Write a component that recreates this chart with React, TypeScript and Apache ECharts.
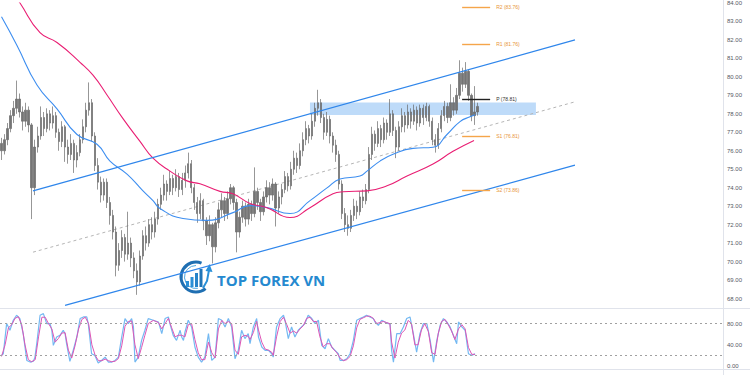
import React, { useEffect, useRef } from 'react';
import * as echarts from 'echarts';

const categoryCount = 240;

// [open, close, low, high]
const bars = [
  [76.4, 76.0, 75.5, 76.7], [76.0, 76.6, 75.8, 76.9], [76.6, 77.2, 76.3, 77.5], [77.2, 77.9, 77.0, 78.2],
  [77.9, 78.3, 77.5, 78.7], [78.3, 78.8, 78.0, 79.8], [78.8, 78.1, 77.8, 79.1], [78.1, 77.6, 77.1, 78.4],
  [77.6, 78.2, 77.3, 78.6], [78.2, 77.4, 77.0, 78.4], [77.4, 74.0, 72.3, 77.5], [74.0, 76.2, 73.6, 76.6],
  [76.2, 76.8, 75.9, 77.3], [76.8, 77.8, 76.6, 78.4], [77.8, 77.2, 76.8, 78.1], [77.2, 78.0, 77.0, 78.3],
  [78.0, 77.5, 77.1, 78.2], [77.5, 77.9, 77.2, 78.4], [77.9, 77.0, 76.7, 78.1], [77.0, 76.5, 76.0, 77.2],
  [76.5, 77.3, 76.2, 77.6], [77.3, 76.2, 75.4, 77.4], [76.2, 75.8, 75.3, 76.6], [75.8, 76.4, 75.5, 76.9],
  [76.4, 75.5, 74.8, 76.6], [75.5, 75.9, 75.1, 76.3], [75.9, 76.6, 75.7, 76.9], [76.6, 77.3, 76.4, 77.7],
  [77.3, 78.2, 77.0, 78.6], [78.2, 78.6, 77.9, 79.7], [78.6, 76.8, 76.5, 78.8], [76.8, 75.2, 74.9, 77.0],
  [75.2, 74.3, 73.9, 75.6], [74.3, 73.6, 73.2, 74.6], [73.6, 74.3, 73.3, 74.5], [74.3, 73.2, 72.9, 74.5],
  [73.2, 72.5, 72.0, 73.5], [72.5, 71.6, 71.2, 72.8], [71.6, 69.8, 69.2, 71.9], [69.8, 70.6, 69.5, 71.0],
  [70.6, 71.3, 70.2, 71.7], [71.3, 70.4, 70.0, 71.5], [70.4, 71.0, 70.1, 72.7], [71.0, 70.2, 69.7, 71.3],
  [70.2, 69.5, 69.1, 70.5], [69.5, 68.9, 68.2, 69.9], [68.9, 70.3, 68.7, 70.6], [70.3, 71.4, 70.1, 71.7],
  [71.4, 71.0, 70.6, 71.9], [71.0, 72.0, 70.8, 72.3], [72.0, 71.6, 71.2, 72.4], [71.6, 72.3, 71.3, 72.7],
  [72.3, 73.1, 72.0, 73.4], [73.1, 73.6, 72.8, 74.0], [73.6, 74.2, 73.3, 74.7], [74.2, 73.8, 73.3, 74.4],
  [73.8, 74.5, 73.6, 74.9], [74.5, 74.0, 73.6, 74.7], [74.0, 74.6, 73.8, 75.0], [74.6, 73.9, 73.5, 74.8],
  [73.9, 74.4, 73.6, 74.8], [74.4, 74.8, 74.0, 75.2], [74.8, 75.3, 74.5, 75.9], [75.3, 74.0, 73.7, 75.5],
  [74.0, 73.2, 72.8, 74.2], [73.2, 72.6, 72.1, 73.5], [72.6, 73.3, 72.3, 73.7], [73.3, 72.2, 71.7, 73.4],
  [72.2, 71.4, 70.9, 72.4], [71.4, 72.0, 71.1, 72.5], [72.0, 70.8, 69.9, 72.1], [70.8, 72.1, 70.5, 72.4],
  [72.1, 72.8, 71.8, 73.2], [72.8, 73.3, 72.4, 73.7], [73.3, 72.6, 72.2, 73.5], [72.6, 73.4, 72.3, 73.8],
  [73.4, 74.0, 73.1, 74.2], [74.0, 73.2, 72.8, 74.1], [73.2, 71.6, 70.5, 73.4], [71.6, 72.4, 71.3, 72.7],
  [72.4, 73.0, 72.1, 73.3], [73.0, 72.3, 71.9, 73.2], [72.3, 73.1, 72.0, 73.4], [73.1, 72.6, 72.2, 73.3],
  [72.6, 73.8, 72.4, 75.1], [73.8, 73.2, 72.8, 74.0], [73.2, 72.7, 72.2, 73.4], [72.7, 73.5, 72.5, 73.8],
  [73.5, 74.0, 73.2, 74.4], [74.0, 73.6, 73.1, 74.3], [73.6, 74.2, 73.3, 74.5], [74.2, 72.9, 71.9, 74.3],
  [72.9, 73.5, 72.6, 73.8], [73.5, 73.9, 73.1, 74.2], [73.9, 74.6, 73.7, 74.9], [74.6, 74.1, 73.8, 74.8],
  [74.1, 75.0, 73.9, 75.4], [75.0, 75.6, 74.7, 76.0], [75.6, 75.2, 74.8, 75.9], [75.2, 76.0, 75.0, 76.4],
  [76.0, 76.6, 75.7, 77.0], [76.6, 77.2, 76.3, 77.6], [77.2, 76.8, 76.4, 77.4], [76.8, 77.6, 76.6, 78.0],
  [77.6, 78.3, 77.3, 78.6], [78.3, 78.6, 77.9, 79.3], [78.6, 77.8, 77.5, 78.8], [77.8, 77.0, 76.6, 78.0],
  [77.0, 77.7, 76.8, 78.1], [77.7, 76.8, 76.4, 77.9], [76.8, 76.3, 75.9, 77.0], [76.3, 75.8, 75.4, 76.6],
  [75.8, 74.2, 73.9, 76.0], [74.2, 72.6, 72.3, 74.4], [72.6, 72.0, 71.6, 72.9], [72.0, 71.8, 71.4, 72.5],
  [71.8, 72.5, 71.6, 72.8], [72.5, 73.0, 72.2, 73.4], [73.0, 72.7, 72.3, 73.3], [72.7, 73.5, 72.5, 73.8],
  [73.5, 73.3, 72.9, 73.9], [73.3, 73.9, 73.1, 74.2], [73.9, 75.8, 73.7, 76.2], [75.8, 76.9, 75.5, 77.3],
  [76.9, 76.4, 76.0, 77.1], [76.4, 77.2, 76.2, 77.6], [77.2, 76.6, 76.2, 77.4], [76.6, 77.5, 76.4, 77.8],
  [77.5, 77.0, 76.6, 77.7], [77.0, 78.0, 76.8, 78.8], [78.0, 77.1, 76.8, 78.2], [77.1, 76.2, 75.6, 77.3],
  [76.2, 77.3, 76.0, 77.6], [77.3, 77.9, 77.0, 78.3], [77.9, 77.4, 77.0, 78.1], [77.4, 78.1, 77.2, 78.5],
  [78.1, 77.6, 77.2, 78.3], [77.6, 78.2, 77.4, 78.5], [78.2, 77.5, 77.1, 78.4], [77.5, 78.3, 77.3, 78.5],
  [78.3, 77.8, 77.4, 78.5], [77.8, 78.4, 77.6, 78.6], [78.4, 77.6, 77.3, 78.5], [77.6, 76.6, 76.3, 77.8],
  [76.6, 76.3, 75.9, 76.9], [76.3, 77.2, 76.1, 77.5], [77.2, 77.9, 77.0, 78.2], [77.9, 78.4, 77.6, 78.7],
  [78.4, 77.8, 77.5, 78.6], [77.8, 78.6, 77.6, 79.6], [78.6, 78.2, 77.9, 78.9], [78.2, 79.0, 78.0, 79.4],
  [79.0, 80.2, 78.8, 80.9], [80.2, 79.6, 79.2, 80.5], [79.6, 80.3, 79.4, 80.8], [80.3, 79.0, 78.7, 80.4],
  [79.0, 77.9, 77.6, 79.1], [77.9, 78.1, 77.4, 79.5], [78.1, 78.4, 77.9, 78.6],
];

// [barIndex, value]
const maFast = [
  [0, 83.25], [5.14, 81.7], [11.78, 79.56], [18.42, 78.27], [25.06, 76.88], [31.7, 76.35], [36.01, 75.44],
  [41.66, 74.74], [46.97, 73.83], [50.29, 73.3], [52.61, 72.87], [60.25, 72.33], [68.21, 72.23], [76.84, 72.65],
  [82.49, 73.03], [88.13, 72.92], [95.77, 72.6], [102.4, 73.3], [108.05, 73.99], [112.36, 74.47], [119.0, 74.63],
  [121.33, 74.9], [125.64, 75.44], [129.96, 75.81], [136.6, 76.13], [143.24, 76.19], [147.88, 76.88],
  [152.2, 77.58], [155.52, 77.84], [157.18, 77.95],
];
const maSlow = [
  [0, 85.5], [6.14, 84.0], [12.78, 82.39], [18.42, 81.86], [26.06, 80.79], [30.37, 80.09], [35.02, 79.02],
  [40.33, 77.74], [45.97, 76.51], [50.29, 75.6], [55.93, 74.9], [61.57, 74.37], [65.89, 74.21], [72.53, 73.8],
  [76.84, 73.67], [82.49, 73.15], [88.13, 72.92], [95.77, 72.39], [102.4, 72.92], [110.04, 73.67],
  [113.36, 73.78], [121.33, 73.83], [127.97, 74.1], [134.61, 74.63], [143.24, 75.28], [149.88, 75.97],
  [156.85, 76.56],
];

const channelUpper = [[10.45, 73.83], [190.37, 82.0]];
const channelLower = [[21.08, 67.63], [190.37, 75.22]];
const channelMid = [[10.45, 70.51], [190.37, 78.65]];
const zone = [[102.4, 78.61], [177.4, 77.94]];

const pivotStart = 152.9;
const pivotEnd = 162.2;
const pivotNames = ['R2', 'R1', 'P', 'S1', 'S2'];
const pivotValues = [83.76, 81.76, 78.81, 76.81, 73.86];
const lastPrice = 78.4;

const stochLevels = [80, 20];
const stochK = [
  [0, 20.0], [0.6, 23.1], [1.7, 80.0], [2.8, 67.4], [3.9, 86.3], [5.0, 95.8], [6.1, 89.5], [7.2, 61.0],
  [8.4, 10.5], [9.5, 7.4], [10.6, 9.2], [11.1, 16.8], [11.7, 42.1], [12.8, 95.8], [13.9, 98.9], [15.0, 80.0],
  [16.1, 80.0], [16.7, 67.4], [17.2, 38.9], [18.3, 54.7], [19.4, 57.9], [20.5, 67.4], [21.1, 61.0], [21.6, 42.1],
  [22.7, 8.6], [23.8, 29.5], [25.0, 54.7], [26.1, 89.5], [27.2, 92.6], [28.3, 92.6], [28.8, 80.0], [29.9, 23.1],
  [31.0, 20.0], [32.1, 5.5], [33.2, 10.5], [34.4, 16.8], [35.5, 7.4], [36.6, 7.4], [37.7, 10.5], [38.8, 16.8],
  [39.9, 54.7], [41.0, 89.5], [42.1, 80.0], [43.2, 89.5], [43.8, 73.7], [44.3, 7.4], [45.4, 16.8], [46.5, 48.4],
  [47.6, 67.4], [48.7, 89.5], [50.4, 86.3], [52.1, 83.1], [53.2, 61.0], [54.3, 89.5], [55.4, 92.6], [55.9, 80.0],
  [57.0, 57.9], [58.1, 48.4], [59.3, 67.4], [59.8, 54.7], [60.4, 48.4], [60.9, 64.2], [62.0, 86.3], [63.1, 73.7],
  [64.2, 35.8], [65.3, 16.8], [66.4, 7.4], [67.5, 16.8], [68.7, 61.0], [69.8, 10.5], [70.9, 16.8], [72.0, 89.5],
  [73.1, 86.3], [74.2, 73.7], [75.3, 89.5], [76.4, 73.7], [77.5, 13.7], [78.6, 29.5], [79.7, 67.4], [80.8, 51.6],
  [81.9, 61.0], [82.5, 42.1], [83.6, 73.7], [84.7, 89.5], [85.3, 54.7], [86.4, 35.8], [87.5, 29.5], [88.6, 29.5],
  [89.7, 23.1], [90.2, 16.8], [91.3, 73.7], [92.5, 89.5], [93.6, 95.8], [94.1, 86.3], [95.2, 51.6], [96.3, 73.7],
  [97.4, 54.7], [98.5, 67.4], [99.6, 73.7], [100.7, 80.0], [101.8, 95.8], [103.0, 89.5], [104.1, 80.0],
  [105.2, 86.3], [106.3, 38.9], [107.4, 32.6], [108.5, 51.6], [109.6, 35.8], [110.7, 29.5], [111.8, 23.1],
  [112.4, 10.5], [113.5, 10.5], [114.6, 13.7], [115.7, 23.1], [116.8, 48.4], [117.9, 86.3], [119.0, 89.5],
  [120.1, 92.6], [121.2, 95.8], [122.3, 92.6], [123.4, 89.5], [124.0, 83.1], [125.1, 76.8], [126.2, 86.3],
  [127.3, 83.1], [128.4, 80.0], [129.0, 80.0], [129.5, 29.5], [130.1, 7.4], [131.2, 61.0], [132.3, 61.0],
  [133.4, 73.7], [134.5, 89.5], [135.6, 92.6], [136.7, 61.0], [137.8, 26.3], [138.9, 61.0], [140.0, 80.0],
  [141.2, 80.0], [142.3, 48.4], [143.4, 7.4], [144.5, 48.4], [145.6, 76.8], [146.7, 89.5], [147.8, 83.1],
  [148.9, 73.7], [150.0, 57.9], [151.1, 42.1], [151.7, 83.1], [152.8, 73.7], [153.9, 67.4], [155.0, 23.1],
  [156.1, 20.0], [157.2, 23.1],
];
const stochD = [
  [0, 18], [1.2, 40], [2.3, 72], [3.4, 78], [4.5, 90], [5.6, 93], [6.7, 78], [7.8, 40], [8.9, 12], [10.0, 8],
  [11.2, 12], [12.3, 55], [13.4, 92], [14.5, 92], [15.6, 80], [16.7, 70], [17.8, 45], [18.9, 52], [20.0, 62],
  [21.1, 63], [22.2, 30], [23.3, 15], [24.4, 38], [25.6, 70], [26.7, 88], [27.8, 92], [28.9, 80], [30.0, 40],
  [31.1, 20], [32.2, 10], [33.3, 10], [34.4, 13], [35.5, 10], [36.6, 8], [37.7, 9], [38.8, 14], [39.9, 38],
  [41.0, 75], [42.1, 84], [43.2, 85], [44.3, 40], [45.4, 14], [46.5, 35], [47.6, 58], [48.7, 80], [50.4, 86],
  [52.1, 82], [53.2, 70], [54.3, 80], [55.4, 90], [56.5, 72], [57.6, 55], [58.7, 58], [59.8, 58], [60.9, 55],
  [62.0, 78], [63.1, 80], [64.2, 50], [65.3, 25], [66.4, 12], [67.5, 12], [68.7, 45], [69.8, 25], [70.9, 15],
  [72.0, 70], [73.1, 86], [74.2, 80], [75.3, 84], [76.4, 80], [77.5, 30], [78.6, 22], [79.7, 55], [80.8, 58],
  [81.9, 56], [82.5, 50], [83.6, 63], [84.7, 84], [85.3, 68], [86.4, 45], [87.5, 32], [88.6, 30], [89.7, 26],
  [90.2, 20], [91.3, 55], [92.5, 84], [93.6, 92], [94.7, 78], [95.8, 62], [96.9, 66], [98.0, 62], [99.1, 70],
  [100.2, 76], [101.3, 90], [102.4, 92], [103.5, 84], [104.6, 84], [105.7, 55], [106.8, 36], [107.9, 42],
  [109.0, 42], [110.1, 32], [111.2, 26], [112.4, 15], [113.5, 10], [114.6, 12], [115.7, 18], [116.8, 38],
  [117.9, 72], [119.0, 88], [120.1, 91], [121.2, 94], [122.3, 94], [123.4, 90], [124.5, 80], [125.6, 82],
  [126.7, 84], [127.8, 82], [128.9, 80], [129.5, 45], [130.6, 15], [131.7, 45], [132.8, 62], [133.9, 68],
  [135.0, 86], [136.1, 80], [137.2, 40], [138.3, 40], [139.4, 68], [140.5, 80], [141.7, 65], [142.8, 25],
  [143.9, 22], [145.0, 62], [146.1, 84], [147.2, 88], [148.3, 78], [149.4, 66], [150.5, 50], [151.7, 70],
  [152.8, 78], [153.9, 70], [155.0, 35], [156.1, 22], [157.2, 22],
];

const FONT = '"Liberation Sans", Arial, sans-serif';
const ORANGE = '#f5a54a';

export default function App() {
  const ref = useRef<HTMLDivElement>(null);

  useEffect(() => {
    if (!ref.current) return;
    const chart = echarts.init(ref.current, null, { renderer: 'svg' });
    const categories = Array.from({ length: categoryCount }, (_, i) => String(i));

    const pivotLines = pivotNames.map((name, k) => {
      const isP = name === 'P';
      const color = isP ? '#222222' : ORANGE;
      const label = {
        show: true,
        position: 'end',
        distance: 6,
        formatter: `${name} (${pivotValues[k].toFixed(2)})`,
        color: isP ? '#333333' : '#e8953a',
        fontSize: 5,
        fontFamily: FONT,
      };
      return [
        { coord: [pivotStart, pivotValues[k]], lineStyle: { color, width: 1.4, type: 'solid' }, label },
        { coord: [pivotEnd, pivotValues[k]] },
      ];
    });

    const option = {
      animation: false,
      backgroundColor: '#ffffff',
      textStyle: { fontFamily: FONT },
      grid: [
        { left: 0, right: 27, top: -1, height: 318 },
        { left: 0, right: 27, top: 313, height: 53 },
      ],
      xAxis: [
        { type: 'category', gridIndex: 0, data: categories, show: false, boundaryGap: true },
        { type: 'value', gridIndex: 0, min: -0.5, max: categoryCount - 0.5, show: false },
        { type: 'value', gridIndex: 1, min: -0.5, max: categoryCount - 0.5, show: false },
      ],
      yAxis: [
        {
          type: 'value', gridIndex: 0, position: 'right', min: 67, max: 84, interval: 1,
          axisLine: { show: false }, axisTick: { show: false }, splitLine: { show: false },
          axisLabel: {
            margin: 4, fontSize: 6, color: '#55585f', fontFamily: FONT,
            formatter: (v: number) => (v === 67 ? '' : v.toFixed(2)),
          },
        },
        {
          type: 'value', gridIndex: 1, position: 'right', min: 0, max: 100, interval: 40,
          axisLine: { show: false }, axisTick: { show: false }, splitLine: { show: false },
          axisLabel: {
            margin: 4, fontSize: 6, color: '#55585f', fontFamily: FONT, showMaxLabel: false,
            formatter: (v: number) => (v === 100 ? '' : v.toFixed(2)),
          },
        },
      ],
      series: [
        {
          type: 'candlestick', xAxisIndex: 0, yAxisIndex: 0, data: bars, barWidth: 1.8,
          itemStyle: { color: '#757575', color0: '#757575', borderColor: '#6a6a6a', borderColor0: '#6a6a6a', borderWidth: 0.7 },
          silent: true,
        },
        {
          type: 'line', xAxisIndex: 1, yAxisIndex: 0, data: maFast, smooth: true, symbol: 'none',
          lineStyle: { color: '#3d8ef0', width: 1.1 }, silent: true,
        },
        {
          type: 'line', xAxisIndex: 1, yAxisIndex: 0, data: maSlow, smooth: true, symbol: 'none',
          lineStyle: { color: '#e91e73', width: 1.1 }, silent: true,
        },
        {
          type: 'line', xAxisIndex: 1, yAxisIndex: 0, data: channelUpper, symbol: 'none',
          lineStyle: { color: '#2f86eb', width: 1.2 }, silent: true,
        },
        {
          type: 'line', xAxisIndex: 1, yAxisIndex: 0, data: channelLower, symbol: 'none',
          lineStyle: { color: '#2f86eb', width: 1.2 }, silent: true,
        },
        {
          type: 'line', xAxisIndex: 1, yAxisIndex: 0, data: channelMid, symbol: 'none', z: 1,
          lineStyle: { color: '#b5b5b5', width: 1, type: [3, 3] }, silent: true,
          markArea: {
            silent: true,
            itemStyle: { color: 'rgba(100,170,240,0.42)' },
            data: [[{ coord: zone[0] }, { coord: zone[1] }]],
          },
        },
        {
          type: 'line', xAxisIndex: 1, yAxisIndex: 0, data: channelMid, symbol: 'none', z: 5,
          lineStyle: { opacity: 0 }, silent: true,
          markLine: {
            silent: true, symbol: ['none', 'none'],
            data: [
              ...pivotLines,
              {
                yAxis: lastPrice,
                lineStyle: { opacity: 0 },
                label: {
                  show: true, position: 'end', distance: 1, formatter: lastPrice.toFixed(2),
                  backgroundColor: '#26b526', color: '#ffffff', padding: [2, 4, 2, 4], fontSize: 6.5, fontFamily: FONT,
                },
              },
            ],
          },
        },
        {
          type: 'line', xAxisIndex: 2, yAxisIndex: 1, data: stochK, symbol: 'none',
          lineStyle: { color: '#74b9f2', width: 1.2 }, silent: true,
          markLine: {
            silent: true, symbol: ['none', 'none'],
            lineStyle: { color: '#a0a0a0', width: 1, type: [2, 3] },
            label: { show: false },
            data: stochLevels.map((v) => ({ yAxis: v })),
          },
        },
        {
          type: 'line', xAxisIndex: 2, yAxisIndex: 1, data: stochD, symbol: 'none',
          lineStyle: { color: '#dd55b5', width: 1 }, silent: true,
        },
      ],
      graphic: [
        { type: 'line', shape: { x1: 723.5, y1: 0, x2: 723.5, y2: 375 }, style: { stroke: '#e0e3eb', lineWidth: 1 }, silent: true },
        { type: 'line', shape: { x1: 0, y1: 308.5, x2: 750, y2: 308.5 }, style: { stroke: '#e0e3eb', lineWidth: 1 }, silent: true },
        { type: 'line', shape: { x1: 0, y1: 369.5, x2: 750, y2: 369.5 }, style: { stroke: '#e0e3eb', lineWidth: 1 }, silent: true },
        {
          type: 'group', silent: true, z: 100,
          children: [
            { type: 'arc', shape: { cx: 196, cy: 277, r: 15, startAngle: -Math.PI * 0.38, endAngle: Math.PI * 0.28, clockwise: false }, style: { stroke: '#1f6fb2', lineWidth: 3, fill: null } },
            { type: 'arc', shape: { cx: 196, cy: 277, r: 11.5, startAngle: -Math.PI * 0.5, endAngle: Math.PI * 0.45, clockwise: false }, style: { stroke: '#4aa6e3', lineWidth: 1, fill: null } },
            { type: 'rect', shape: { x: 186, y: 281, width: 3, height: 6 }, style: { fill: '#2b8fd6' } },
            { type: 'rect', shape: { x: 190.5, y: 277, width: 3, height: 10 }, style: { fill: '#2b8fd6' } },
            { type: 'rect', shape: { x: 195, y: 273, width: 3, height: 14 }, style: { fill: '#2683c9' } },
            { type: 'rect', shape: { x: 199.5, y: 269, width: 3, height: 18 }, style: { fill: '#1f75b8' } },
            { type: 'polyline', shape: { points: [[203, 288], [207, 281], [209, 270]] }, style: { stroke: '#2a90d8', lineWidth: 2, fill: null } },
            { type: 'polygon', shape: { points: [[205.5, 271], [209.5, 264], [212.5, 272]] }, style: { fill: '#2a90d8' } },
            {
              type: 'text', x: 217, y: 280,
              style: { text: 'TOP FOREX VN', fill: '#2589cf', font: 'bold 15px "Open Sans", "Liberation Sans", sans-serif', textVerticalAlign: 'middle', verticalAlign: 'middle' },
            },
          ],
        },
      ],
    };

    chart.setOption(option as any);
    return () => chart.dispose();
  }, []);

  return (
    <div
      ref={ref}
      style={{ position: 'fixed', left: 0, top: 0, width: 750, height: 375, background: '#fff' }}
    />
  );
}
